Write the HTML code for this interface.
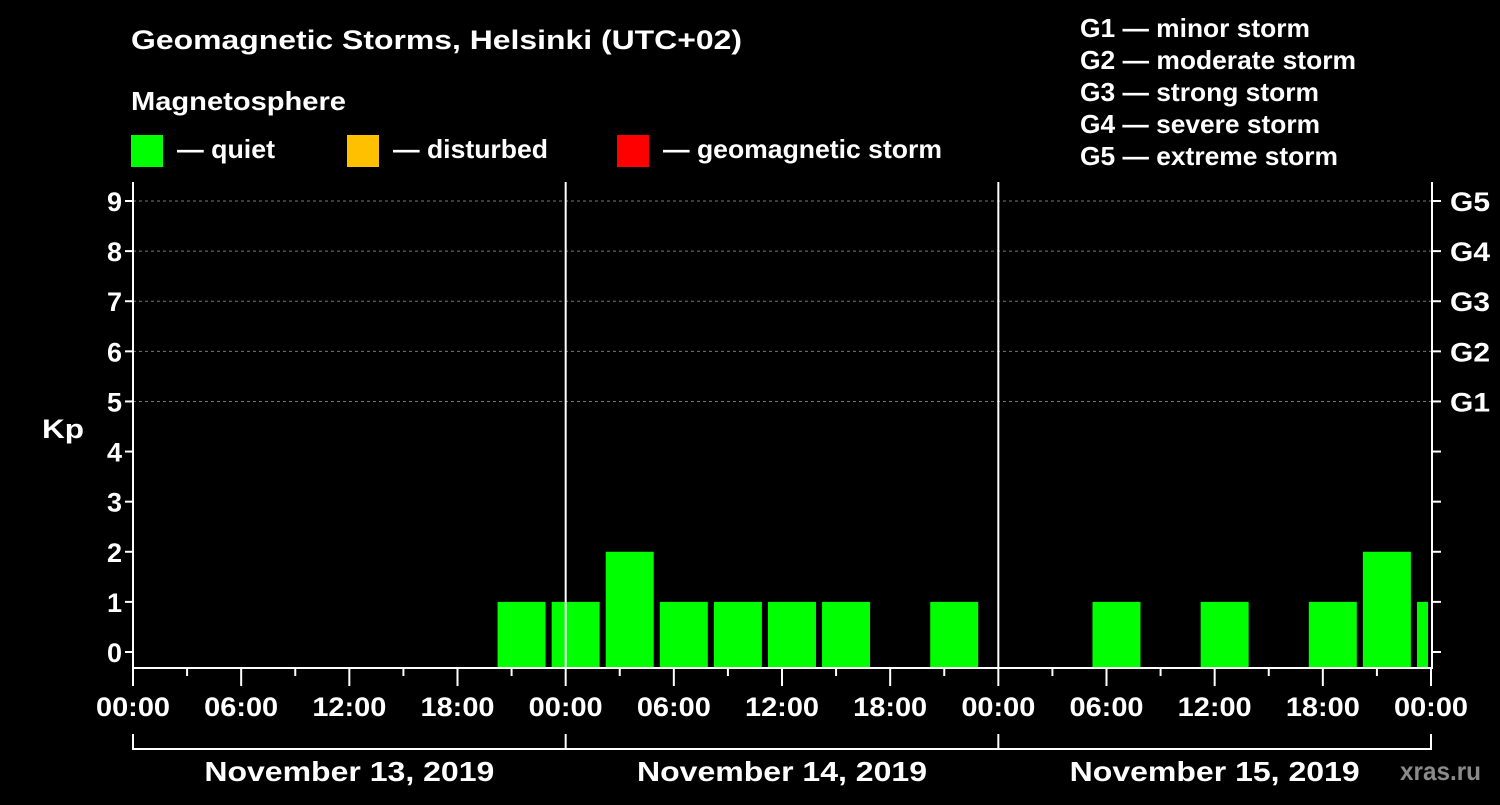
<!DOCTYPE html>
<html><head><meta charset="utf-8"><style>
body{margin:0;background:#000;width:1500px;height:800px;overflow:hidden}
svg text{font-family:"Liberation Sans",sans-serif;font-weight:bold;fill:#fff}
</style></head><body>
<svg width="1500" height="800">
<g id="static">
<text x="131" y="49" font-size="27" textLength="611" lengthAdjust="spacingAndGlyphs">Geomagnetic Storms, Helsinki (UTC+02)</text>
<text x="131" y="110" font-size="26" textLength="215" lengthAdjust="spacingAndGlyphs">Magnetosphere</text>
<rect x="131" y="135" width="32" height="32" fill="#00ff00"/>
<text x="177" y="158" font-size="26" textLength="98" lengthAdjust="spacingAndGlyphs">— quiet</text>
<rect x="347" y="135" width="32" height="32" fill="#ffc000"/>
<text x="393" y="158" font-size="26" textLength="155" lengthAdjust="spacingAndGlyphs">— disturbed</text>
<rect x="617" y="135" width="32" height="32" fill="#ff0000"/>
<text x="663" y="158" font-size="26" textLength="279" lengthAdjust="spacingAndGlyphs">— geomagnetic storm</text>
<text x="1080" y="37" font-size="26" textLength="230" lengthAdjust="spacingAndGlyphs">G1 — minor storm</text>
<text x="1080" y="69" font-size="26" textLength="276" lengthAdjust="spacingAndGlyphs">G2 — moderate storm</text>
<text x="1080" y="101" font-size="26" textLength="239" lengthAdjust="spacingAndGlyphs">G3 — strong storm</text>
<text x="1080" y="133" font-size="26" textLength="240" lengthAdjust="spacingAndGlyphs">G4 — severe storm</text>
<text x="1080" y="165" font-size="26" textLength="258" lengthAdjust="spacingAndGlyphs">G5 — extreme storm</text>
<text x="42" y="438" font-size="27" textLength="42" lengthAdjust="spacingAndGlyphs">Kp</text>
<text x="1400" y="780" font-size="26" textLength="81" lengthAdjust="spacingAndGlyphs" style="fill:#8a8a8a">xras.ru</text>
</g>
<defs><clipPath id="pc"><rect x="133" y="182" width="1295" height="486"/></clipPath></defs>
<g id="grid"></g>
<g id="bars" clip-path="url(#pc)"></g>
<g id="axes"></g>
</svg>
<script>
const kpValues=[0,0,0,0,0,0,0,1,1,2,1,1,1,1,0,1,0,0,1,0,1,0,1,2,1];
const yTicks=[0,1,2,3,4,5,6,7,8,9];
const gLabels=["G1","G2","G3","G4","G5"];
const xTickLabels=["00:00","06:00","12:00","18:00"];
const dayLabels=["November 13, 2019","November 14, 2019","November 15, 2019"];
const NS="http://www.w3.org/2000/svg";
const X0=133,X1=1431,hourW=(X1-X0)/72;
const xs=h=>X0+h*hourW;
const ys=v=>652-v*50.11;
function mk(t,a,p){const e=document.createElementNS(NS,t);for(const k in a)e.setAttribute(k,a[k]);p.appendChild(e);return e;}
const grid=document.getElementById('grid'),bars=document.getElementById('bars'),axes=document.getElementById('axes');
for(let v=5;v<=9;v++){const l=mk('line',{x1:X0,x2:1432,y1:ys(v),y2:ys(v),stroke:'#777','stroke-dasharray':'3,3','stroke-width':1},grid);

}
kpValues.forEach((v,k)=>{if(v<=0)return;const s=-1+3*k;
const r=mk('rect',{x:xs(s)+4,y:ys(v),width:48,height:667-ys(v),fill:'#00ff00'},bars);

});
const f=mk('path',{d:`M${X0},182 V668 H1432 V182`,stroke:'#fff','stroke-width':2,fill:'none'},axes);


[1,2].forEach(d=>{const l=mk('line',{x1:xs(24*d),x2:xs(24*d),y1:182,y2:668,stroke:'#fff','stroke-width':2},axes);

});
yTicks.forEach(v=>{const y=ys(v);
mk('line',{x1:X0-8,x2:X0,y1:y,y2:y,stroke:'#fff','stroke-width':2},axes);
mk('line',{x1:1432,x2:1441,y1:y,y2:y,stroke:'#fff','stroke-width':2},axes);
const t=mk('text',{x:X0-11,y:y+10,'font-size':27,'text-anchor':'end'},axes);t.textContent=v;

});
gLabels.forEach((g,i)=>{const t=mk('text',{x:1450,y:ys(5+i)+10,'font-size':27,textLength:40,lengthAdjust:'spacingAndGlyphs'},axes);t.textContent=g;

});
for(let h=0;h<=72;h+=3){const major=h%6===0;
mk('line',{x1:xs(h),x2:xs(h),y1:668,y2:major?686:676,stroke:'#fff','stroke-width':2},axes);
if(major){const t=mk('text',{x:xs(h),y:716,'font-size':27,'text-anchor':'middle',textLength:74,lengthAdjust:'spacingAndGlyphs'},axes);
t.textContent=h===72?"00:00":xTickLabels[(h%24)/6];

}}
mk('path',{d:`M${X0},734 V749 H${X1} V734`,stroke:'#fff','stroke-width':2,fill:'none'},axes);
[1,2].forEach(d=>mk('line',{x1:xs(24*d),x2:xs(24*d),y1:734,y2:749,stroke:'#fff','stroke-width':2},axes));
dayLabels.forEach((d,i)=>{const t=mk('text',{x:xs(24*i+12),y:781,'font-size':28,'text-anchor':'middle',textLength:290,lengthAdjust:'spacingAndGlyphs'},axes);t.textContent=d;

});
</script>
</body></html>
